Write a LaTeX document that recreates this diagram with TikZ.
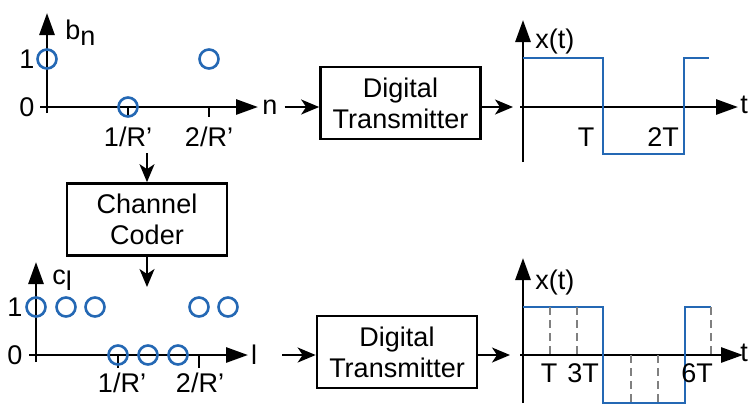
\documentclass[tikz,border=0pt]{standalone}
\usepackage{fontspec}
\setmainfont{Liberation Sans}
\usepackage{tikz}
\usetikzlibrary{arrows.meta, calc, positioning}
\definecolor{sigblue}{RGB}{36,104,180}
\newcommand{\lowidx}[2]{#1\raisebox{-0.4ex}{#2}}

\begin{document}
\begin{tikzpicture}[x=0.5pt,y=-0.5pt,font=\fontsize{13.5}{15.5}\selectfont,
  axis/.style={line width=1.4pt,-{Triangle[length=11pt,width=7.5pt]}},
  flow/.style={line width=1pt,-{Stealth[length=9pt,width=7.5pt,inset=2.5pt]}},
  block/.style={draw,line width=1.35pt,minimum width=80pt,minimum height=36pt,align=center,inner sep=1pt},
  bit/.style={draw=sigblue,line width=1.3pt},
  wave/.style={sigblue,line width=0.85pt},
  slot/.style={gray,line width=0.6pt,dash pattern=on 4pt off 2.5pt},
  tick/.style={line width=0.6pt}]
\useasboundingbox (0,0) rectangle (748,404);
% b_n
\begin{scope}
\draw[axis] (47,113)--(47,13);
\draw[axis] (40,107)--(258,107);
\foreach \x in {128,209} \draw[tick] (\x,107)--(\x,117);
\foreach \x/\y in {47/59,128/107,209/59} \draw[bit] (\x,\y) circle (4.75pt);
\node at (27,107) {0};
\node at (27,59) {1};
\node[anchor=west,inner sep=0] at (65,33) {\lowidx{b}{n}};
\node at (128,137) {1/R'};
\node at (209,137) {2/R'};
\node (n1) at (270,107) {n};
\end{scope}
\node[block] (tx1) at (400.5,103) {Digital\\Transmitter};
\coordinate (o1) at (513,107);
\draw[flow] (n1.east)--(n1.east -| tx1.west);
\draw[flow] (n1 -| tx1.east)--(o1);
% x(t), one bit per T
\begin{scope}
\draw[axis] (523,162)--(523,20);
\draw[axis] (520,107)--(738,107);
\foreach \x in {603,684} \draw[tick] (\x,107)--(\x,117);
\draw[wave] (523,58)--(603,58)--(603,154)--(684,154)--(684,58)--(709,58);
\node[anchor=west,inner sep=0] at (535,42) {x(t)};
\node[anchor=west,inner sep=0] at (740,105) {t};
\node at (586,137) {T};
\node at (663,137) {2T};
\end{scope}
% channel coder
\node[block] (cc) at (147,219.5) {Channel\\Coder};
\coordinate (ccin) at (147,153);
\coordinate (ccout) at (147,287);
\draw[flow] (ccin)--(cc.north);
\draw[flow] (cc.south)--(ccout);
% c_l
\begin{scope}
\draw[axis] (36,362)--(36,262);
\draw[axis] (29,355)--(248,355);
\foreach \x in {118,199} \draw[tick] (\x,355)--(\x,368);
\foreach \x in {36,66,95,199,228} \draw[bit] (\x,307) circle (4.75pt);
\foreach \x in {118,148,178} \draw[bit] (\x,355) circle (4.75pt);
\node at (15,355) {0};
\node at (15,307) {1};
\node[anchor=west,inner sep=0] at (52,280) {\lowidx{c}{l}};
\node at (122,383) {1/R'};
\node at (200,383) {2/R'};
\node (l1) at (254,355) {l};
\end{scope}
\node[block] (tx2) at (397,352) {Digital\\Transmitter};
\coordinate (o2) at (510,355);
\draw[flow] ([xshift=9pt]l1.east)--(l1.east -| tx2.west);
\draw[flow] (l1 -| tx2.east)--(o2);
% x(t), three coded bits per T
\begin{scope}
\draw[axis] (523,403)--(523,258);
\draw[axis] (520,355)--(743,355);
\draw[wave] (523,307)--(603,307)--(603,403)--(685,403)--(685,307)--(711,307);
\foreach \x in {550,577,711} \draw[slot] (\x,307)--(\x,355);
\foreach \x in {631,658} \draw[slot] (\x,355)--(\x,403);
\node[anchor=west,inner sep=0] at (535,282) {x(t)};
\node[anchor=west,inner sep=0] at (740,353) {t};
\node at (549,373) {T};
\node at (583,373) {3T};
\node at (697,373) {6T};
\end{scope}
\end{tikzpicture}
\end{document}
